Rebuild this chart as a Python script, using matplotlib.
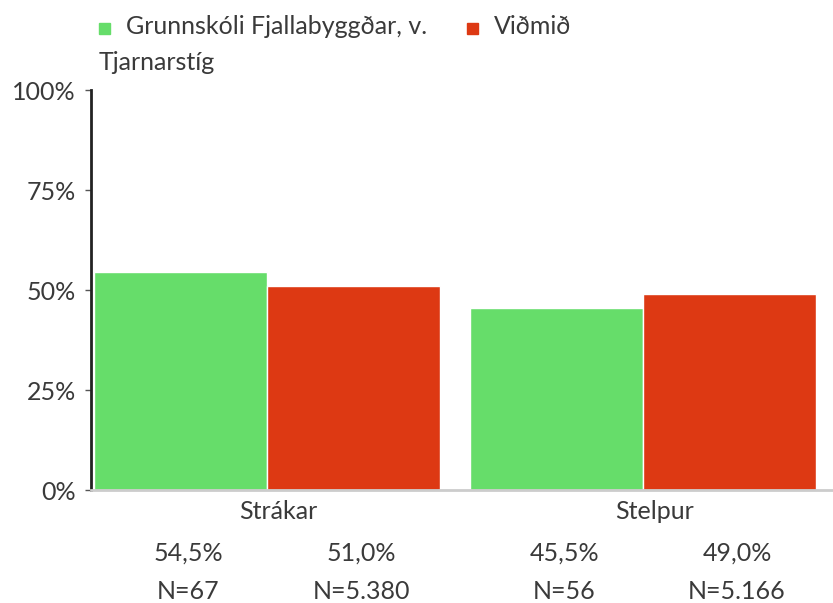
import matplotlib.pyplot as plt
import matplotlib.transforms as mtransforms
from matplotlib.patches import Rectangle
from matplotlib.ticker import PercentFormatter

# Data
categories = ['Strákar', 'Stelpur']
series_names = ['Grunnskóli Fjallabyggðar, v.\nTjarnarstíg', 'Viðmið']
school_values = [0.545, 0.455]
reference_values = [0.510, 0.490]
school_n = ['N=67', 'N=56']
reference_n = ['N=5.380', 'N=5.166']
y_ticks = [0, 0.25, 0.5, 0.75, 1.0]

COLORS = ['#66dd6a', '#dd3913']
TEXT_COLOR = '#3a3a3a'
FONT = 'Lato'
FS = 18

plt.rcParams['font.family'] = [FONT, 'DejaVu Sans']

W, H = 833, 603
fig = plt.figure(figsize=(W / 100, H / 100), dpi=100)
ax = fig.add_axes([91 / W, 113 / H, (W - 91) / W, 400 / H])

bar_w = 0.46
offsets = [-bar_w / 2, bar_w / 2]
xs = list(range(len(categories)))

for values, off, color in zip([school_values, reference_values], offsets, COLORS):
    ax.bar([x + off for x in xs], values, width=bar_w, color=color,
           edgecolor='white', linewidth=1)

ax.set_xlim(-0.468, 1.505)
ax.set_ylim(0, 1)
ax.set_yticks(y_ticks)
ax.yaxis.set_major_formatter(PercentFormatter(1.0, decimals=0))
ax.tick_params(axis='y', length=4, width=1, color='#555555', pad=7,
               labelsize=FS, labelcolor=TEXT_COLOR)
ax.set_xticks([])

for side in ['top', 'right']:
    ax.spines[side].set_visible(False)
ax.spines['left'].set_color('#222222')
ax.spines['left'].set_linewidth(2)
ax.spines['bottom'].set_color('#cccccc')
ax.spines['bottom'].set_linewidth(2)


# labels under the bars (pixel offsets below the baseline)
def below(px):
    return mtransforms.offset_copy(ax.get_xaxis_transform(), fig=fig,
                                   x=0, y=-px, units='dots')


for x, cat in zip(xs, categories):
    ax.text(x + 0.03, 0, cat, transform=below(29), ha='center', va='baseline',
            fontsize=FS, color=TEXT_COLOR, clip_on=False)

for x in xs:
    for off, values, ns in zip(offsets, [school_values, reference_values],
                               [school_n, reference_n]):
        pct = f'{values[x] * 100:.1f}%'.replace('.', ',')
        ax.text(x + off + 0.02, 0, pct, transform=below(71), ha='center',
                va='baseline', fontsize=FS, color=TEXT_COLOR, clip_on=False)
        ax.text(x + off + 0.02, 0, ns[x], transform=below(109), ha='center',
                va='baseline', fontsize=FS, color=TEXT_COLOR, clip_on=False)

# legend drawn by hand in pixel coordinates; wrapped line starts under the square
legend_x = [99, 467]
for name, color, lx in zip(series_names, COLORS, legend_x):
    fig.patches.append(Rectangle((lx / W, (H - 34) / H), 11 / W, 11 / H,
                                 transform=fig.transFigure, color=color))
    for i, line in enumerate(name.split('\n')):
        tx = lx + 27 if i == 0 else lx
        fig.text(tx / W, (H - 34 - 36 * i) / H, line, ha='left',
                 va='baseline', fontsize=FS, color=TEXT_COLOR)

fig.savefig('out.png', dpi=100)
